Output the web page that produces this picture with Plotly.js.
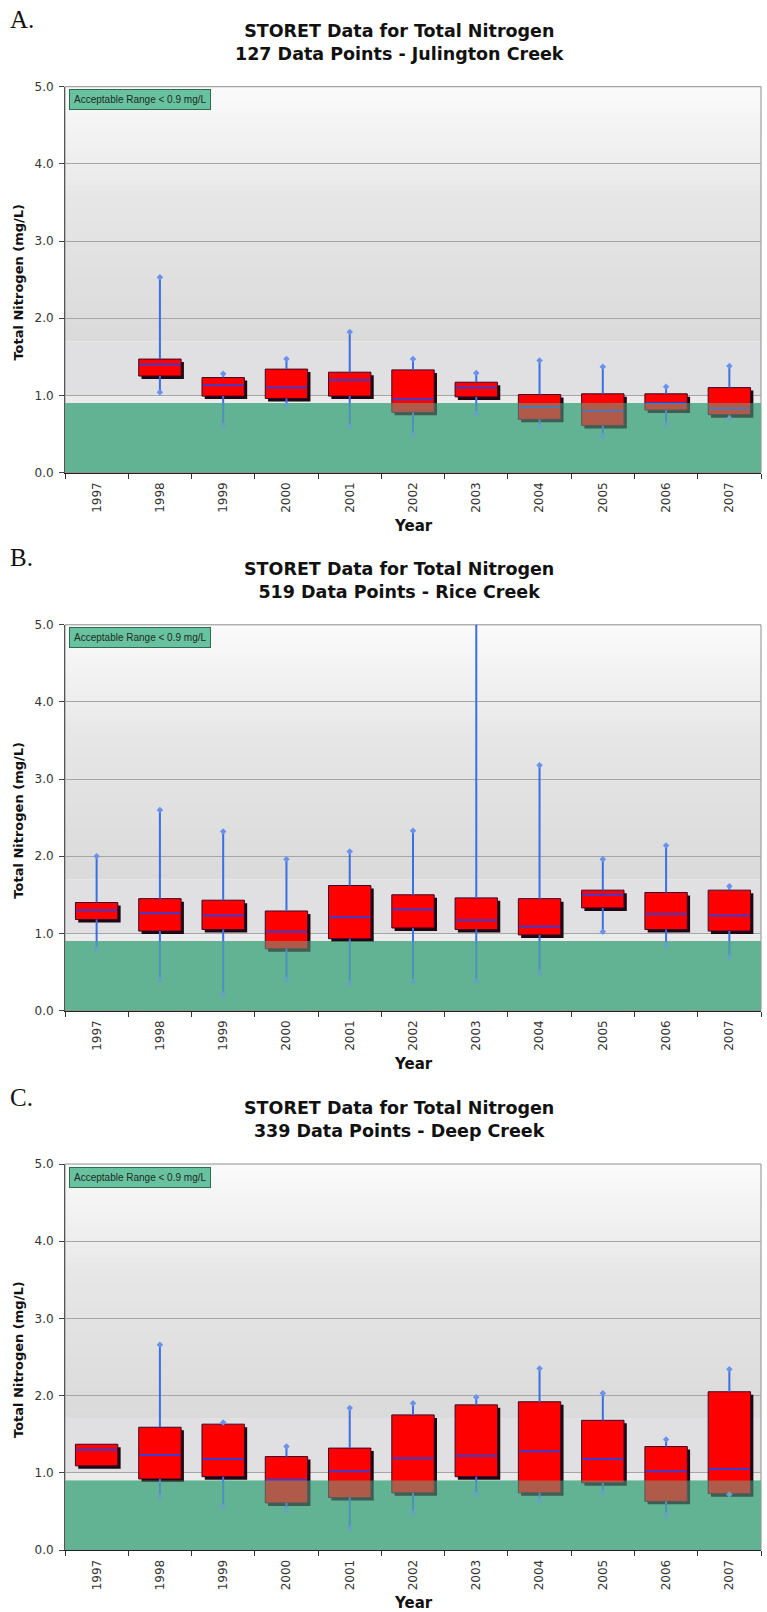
<!DOCTYPE html>
<html>
<head>
<meta charset="utf-8">
<script src="https://cdn.plot.ly/plotly-3.0.1.min.js"></script>
<style>
  html, body { margin: 0; padding: 0; background: #ffffff; }
  #chart { width: 767px; height: 1612px; }
</style>
</head>
<body>
<div id="chart"></div>
<script>
// ---- Data: yearly Total Nitrogen (mg/L) box statistics ----
const years = ['1997', '1998', '1999', '2000', '2001', '2002', '2003', '2004', '2005', '2006', '2007'];

// A. Julington Creek (127 data points) - no samples in 1997
const julMin = [null, 1.04, 0.61, 0.87, 0.60, 0.49, 0.76, 0.60, 0.47, 0.62, 0.70];
const julQ1  = [null, 1.25, 0.99, 0.96, 0.99, 0.78, 0.98, 0.69, 0.61, 0.81, 0.75];
const julMed = [null, 1.40, 1.13, 1.10, 1.20, 0.95, 1.10, 0.85, 0.80, 0.90, 0.83];
const julQ3  = [null, 1.47, 1.23, 1.34, 1.30, 1.33, 1.17, 1.01, 1.02, 1.02, 1.10];
const julMax = [null, 2.53, 1.28, 1.47, 1.82, 1.47, 1.29, 1.45, 1.37, 1.11, 1.38];

// B. Rice Creek (519 data points)
const riceMin = [0.79, 0.40, 0.21, 0.40, 0.35, 0.37, 0.38, 0.49, 1.02, 0.85, 0.69];
const riceQ1  = [1.18, 1.03, 1.05, 0.80, 0.93, 1.07, 1.05, 0.98, 1.33, 1.05, 1.03];
const riceMed = [1.30, 1.26, 1.23, 1.02, 1.21, 1.31, 1.17, 1.09, 1.50, 1.25, 1.23];
const riceQ3  = [1.40, 1.45, 1.43, 1.29, 1.62, 1.50, 1.46, 1.45, 1.56, 1.53, 1.56];
const riceMax = [2.00, 2.60, 2.32, 1.96, 2.06, 2.33, 5.30, 3.18, 1.96, 2.14, 1.61];

// C. Deep Creek (339 data points)
const deepMin = [1.09, 0.69, 0.56, 0.52, 0.28, 0.48, 0.72, 0.64, 0.74, 0.45, 0.72];
const deepQ1  = [1.09, 0.92, 0.95, 0.61, 0.68, 0.74, 0.95, 0.74, 0.87, 0.63, 0.73];
const deepMed = [1.30, 1.23, 1.18, 0.91, 1.02, 1.19, 1.22, 1.28, 1.18, 1.02, 1.05];
const deepQ3  = [1.37, 1.59, 1.63, 1.21, 1.32, 1.75, 1.88, 1.92, 1.68, 1.34, 2.05];
const deepMax = [1.37, 2.66, 1.65, 1.34, 1.84, 1.90, 1.98, 2.35, 2.03, 1.43, 2.34];

const acceptableLimit = 0.9;
const yTicks = [0, 1, 2, 3, 4, 5];

const panelLetters = ['A.', 'B.', 'C.'];
const panelTitles = [
  'STORET Data for Total Nitrogen<br>127 Data Points - Julington Creek',
  'STORET Data for Total Nitrogen<br>519 Data Points - Rice Creek',
  'STORET Data for Total Nitrogen<br>339 Data Points - Deep Creek'
];
const rangeLabel = 'Acceptable Range < 0.9 mg/L';

// ---- Page geometry (pixels) ----
const W = 767, H = 1612;
const plotLeft = 65, plotRight = 761;
const plotBoxes = [
  { top: 86.7, bottom: 472.5 },
  { top: 624.8, bottom: 1010.5 },
  { top: 1164, bottom: 1550 }
];

// ---- Styling ----
const RED = '#ff0000';
const SHADOW = '#1c0812';
const WHISKER = '#3b6ee2';
const MEDIAN = '#3c3cd0';
const GREEN = '#62b394';
const BOX_W = 0.67;                       // box width in category units
const catPx = (plotRight - plotLeft) / years.length;
const unitPx = (plotBoxes[0].bottom - plotBoxes[0].top) / 5;
const shadowDx = 2.8 / catPx;
const shadowDy = 3 / unitPx;

const py = v => 1 - v / H;
const px = v => v / W;

function hexToRgb(h) {
  return [1, 3, 5].map(i => parseInt(h.slice(i, i + 2), 16));
}
function mix(a, b, t) {
  const A = hexToRgb(a), B = hexToRgb(b);
  return 'rgb(' + A.map((v, i) => Math.round(v + (B[i] - v) * t)).join(',') + ')';
}

const traces = [];
const shapes = [];
const annotations = [];
const layout = {
  width: W, height: H,
  margin: { l: 0, r: 0, t: 0, b: 0 },
  paper_bgcolor: '#ffffff',
  plot_bgcolor: 'rgba(0,0,0,0)',
  showlegend: false,
  barmode: 'overlay',
  font: { family: 'DejaVu Sans', color: '#333' },
  shapes: shapes,
  annotations: annotations
};

function addPanel(k, mins, q1s, meds, q3s, maxs) {
  const s = k === 0 ? '' : String(k + 1);
  const xa = 'x' + s, ya = 'y' + s;
  const box = plotBoxes[k];

  layout['xaxis' + s] = {
    domain: [px(plotLeft), px(plotRight)],
    anchor: ya,
    type: 'category',
    categoryorder: 'array',
    categoryarray: years,
    range: [-0.5, years.length - 0.5],
    tickson: 'boundaries',
    ticks: 'outside', ticklen: 5, tickcolor: '#333', tickwidth: 1,
    tickangle: -90,
    ticklabelstandoff: 4,
    tickfont: { family: 'DejaVu Sans', size: 12, color: '#333' },
    showline: true, linecolor: '#222', linewidth: 1,
    showgrid: false, zeroline: false, fixedrange: true
  };
  layout['yaxis' + s] = {
    domain: [py(box.bottom), py(box.top)],
    anchor: xa,
    range: [0, 5],
    tickvals: yTicks,
    tickformat: '.1f',
    ticks: 'outside', ticklen: 5, tickcolor: '#444', tickwidth: 1,
    ticklabelstandoff: 3,
    tickfont: { family: 'DejaVu Sans', size: 12, color: '#333' },
    showline: true, linecolor: '#555', linewidth: 1,
    showgrid: true, gridcolor: '#a6a6a6', gridwidth: 1,
    zeroline: false, fixedrange: true
  };

  // plot-area background: soft vertical grey gradient above the acceptable band
  const xd = xa + ' domain';
  const bands = 44, gTop = 5, gBot = 1.7;
  for (let b = 0; b < bands; b++) {
    const y0 = gBot + (gTop - gBot) * b / bands;
    const y1 = gBot + (gTop - gBot) * (b + 1) / bands;
    const t = (b + 0.5) / bands;
    const col = t < 0.55 ? mix('#dadada', '#e6e6e6', t / 0.55) : mix('#e6e6e6', '#fbfbfb', (t - 0.55) / 0.45);
    shapes.push({ type: 'rect', layer: 'below', xref: xd, yref: ya, x0: 0, x1: 1, y0: y0, y1: y1 + 0.01,
      fillcolor: col, line: { width: 0 } });
  }
  shapes.push({ type: 'rect', layer: 'below', xref: xd, yref: ya, x0: 0, x1: 1, y0: 1.0, y1: gBot,
    fillcolor: '#e0e0e2', line: { width: 0 } });
  shapes.push({ type: 'rect', layer: 'below', xref: xd, yref: ya, x0: 0, x1: 1, y0: acceptableLimit, y1: 1.0,
    fillcolor: '#ebebeb', line: { width: 0 } });
  // acceptable range band (solid underneath)
  shapes.push({ type: 'rect', layer: 'below', xref: xd, yref: ya, x0: 0, x1: 1, y0: 0, y1: acceptableLimit,
    fillcolor: GREEN, line: { width: 0 } });
  // plot frame (top/right visible; left/bottom sit under the axis lines)
  shapes.push({ type: 'rect', layer: 'below', xref: xd, yref: ya + ' domain', x0: 0, x1: 1, y0: 0, y1: 1,
    fillcolor: 'rgba(0,0,0,0)', line: { color: '#8e8e8e', width: 1 } });

  const idx = years.map((_, i) => i).filter(i => q1s[i] != null);
  const xs = idx.map(i => years[i]);
  const heights = idx.map(i => q3s[i] - q1s[i]);

  // box drop shadow
  traces.push({
    type: 'bar', xaxis: xa, yaxis: ya, x: xs,
    base: idx.map(i => q1s[i] - shadowDy), y: heights,
    width: BOX_W, offset: -BOX_W / 2 + shadowDx,
    marker: { color: SHADOW, line: { width: 0 } }, hoverinfo: 'skip'
  });
  // interquartile boxes
  traces.push({
    type: 'bar', xaxis: xa, yaxis: ya, x: xs,
    base: idx.map(i => q1s[i]), y: heights,
    width: BOX_W, offset: -BOX_W / 2,
    marker: { color: RED, line: { color: '#3a0828', width: 1 } },
    hovertemplate: '%{x}<extra></extra>'
  });

  // whiskers: q3 -> max and min -> q1
  const wx = [], wy = [];
  const capX = [], capY = [];
  idx.forEach(i => {
    if (maxs[i] > q3s[i]) {
      wx.push(years[i], years[i], null); wy.push(q3s[i], maxs[i], null);
      capX.push(years[i]); capY.push(maxs[i]);
    }
    if (mins[i] < q1s[i]) {
      wx.push(years[i], years[i], null); wy.push(mins[i], q1s[i], null);
      capX.push(years[i]); capY.push(mins[i]);
    }
  });
  traces.push({
    type: 'scatter', mode: 'lines', xaxis: xa, yaxis: ya, x: wx, y: wy,
    connectgaps: false, line: { color: WHISKER, width: 2 }, hoverinfo: 'skip'
  });
  traces.push({
    type: 'scatter', mode: 'markers', xaxis: xa, yaxis: ya, x: capX, y: capY,
    marker: { symbol: 'diamond', size: 5, color: '#6a92ec', line: { width: 0 } }, hoverinfo: 'skip'
  });
  // medians
  traces.push({
    type: 'scatter', mode: 'markers', xaxis: xa, yaxis: ya, x: xs, y: idx.map(i => meds[i]),
    marker: { symbol: 'line-ew', size: (BOX_W * catPx - 2) / 1.4, line: { color: MEDIAN, width: 2 } },
    hoverinfo: 'skip'
  });

  // translucent acceptable band laid over the boxes
  shapes.push({ type: 'rect', layer: 'above', xref: xd, yref: ya, x0: 0, x1: 1, y0: 0, y1: acceptableLimit,
    fillcolor: GREEN, opacity: 0.5, line: { width: 0 } });

  // texts
  annotations.push({
    xref: 'paper', yref: 'paper', x: px(8), y: py(box.top - 67), xanchor: 'left', yanchor: 'middle',
    text: panelLetters[k], showarrow: false,
    font: { family: 'Liberation Serif, Times New Roman, serif', size: 25, color: '#111' }
  });
  annotations.push({
    xref: 'paper', yref: 'paper', x: px(399), y: py(box.top - 44.3), xanchor: 'center', yanchor: 'middle',
    text: panelTitles[k], showarrow: false,
    font: { family: 'DejaVu Sans', size: 17.5, weight: 'bold', color: '#111' }
  });
  annotations.push({
    xref: 'paper', yref: 'paper', x: px(18.5), y: py((box.top + box.bottom) / 2 + 2.5),
    xanchor: 'center', yanchor: 'middle', textangle: -90,
    text: 'Total Nitrogen (mg/L)', showarrow: false,
    font: { family: 'DejaVu Sans', size: 13, weight: 'bold', color: '#111' }
  });
  annotations.push({
    xref: 'paper', yref: 'paper', x: px(413), y: py(box.bottom + 53), xanchor: 'center', yanchor: 'middle',
    text: 'Year', showarrow: false,
    font: { family: 'DejaVu Sans', size: 15, weight: 'bold', color: '#111' }
  });
  annotations.push({
    xref: xd, yref: ya + ' domain', x: 0, y: 1, xanchor: 'left', yanchor: 'top',
    xshift: 4, yshift: -2.5,
    text: rangeLabel, showarrow: false, align: 'center',
    bgcolor: '#69c29f', bordercolor: '#2f6b53', borderwidth: 1, borderpad: 4,
    font: { family: 'Liberation Sans, Arial, sans-serif', size: 10, color: '#1d2b24' }
  });
}

addPanel(0, julMin, julQ1, julMed, julQ3, julMax);
addPanel(1, riceMin, riceQ1, riceMed, riceQ3, riceMax);
addPanel(2, deepMin, deepQ1, deepMed, deepQ3, deepMax);

Plotly.newPlot('chart', traces, layout, { displayModeBar: false, staticPlot: true });
</script>
</body>
</html>
